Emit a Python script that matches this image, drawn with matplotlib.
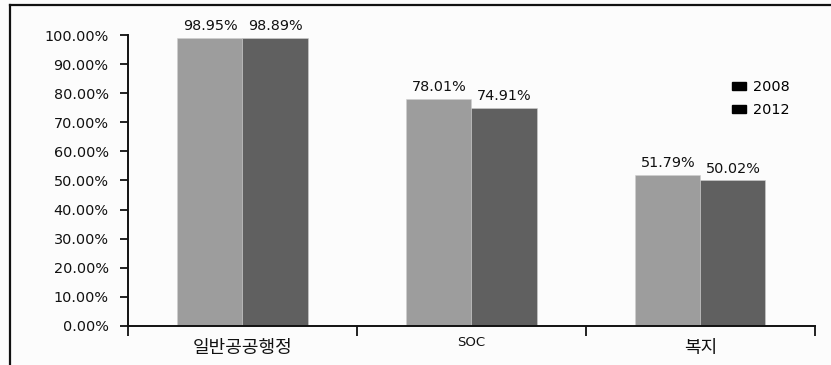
import matplotlib
matplotlib.use("Agg")
import matplotlib.pyplot as plt
from matplotlib.lines import Line2D
from matplotlib.patches import Patch
from matplotlib.ticker import FixedLocator, FuncFormatter
import numpy as np

categories = ["일반공공행정", "SOC", "복지"]
series_names = ["2008", "2012"]
values_2008 = [98.95, 78.01, 51.79]
values_2012 = [98.89, 74.91, 50.02]
y_ticks = [0, 10, 20, 30, 40, 50, 60, 70, 80, 90, 100]

plt.rcParams["font.family"] = ["DejaVu Sans", "Noto Sans CJK KR"]

fig = plt.figure(figsize=(8.31, 3.65), dpi=100, facecolor="#fcfcfc")
ax = fig.add_axes([0.154, 0.107, 0.8267, 0.797])
ax.set_facecolor("#fcfcfc")

x = np.arange(len(categories))
w = 0.284
colors = ["#9d9d9d", "#606060"]
bars_a = ax.bar(x - w / 2, values_2008, w, color=colors[0], edgecolor="#cfcfcf", linewidth=0.4)
bars_b = ax.bar(x + w / 2, values_2012, w, color=colors[1], edgecolor="#cfcfcf", linewidth=0.4)

for bars, vals in ((bars_a, values_2008), (bars_b, values_2012)):
    for b, v in zip(bars, vals):
        ax.annotate(f"{v:.2f}%", (b.get_x() + b.get_width() / 2, v),
                    xytext=(0, 3.5), textcoords="offset points",
                    ha="center", va="bottom", fontsize=10.4, color="#111111")

ax.set_xlim(-0.5, len(categories) - 0.5)
ax.set_ylim(0, 100)

ax.yaxis.set_major_locator(FixedLocator(y_ticks))
ax.yaxis.set_major_formatter(FuncFormatter(lambda v, p: f"{v:.2f}%"))
ax.tick_params(axis="y", direction="out", length=6, width=1.3, pad=8,
               labelsize=10.4, colors="#111111", labelcolor="#111111")

# category ticks sit on the boundaries between groups
ax.set_xticks(np.arange(len(categories) + 1) - 0.5)
ax.set_xticklabels([])
ax.tick_params(axis="x", direction="out", length=7, width=1.3, colors="#111111")
for i, c in enumerate(categories):
    if c.isascii():
        ax.text(i, -5.8, c, ha="center", va="center", fontsize=9.5,
                transform=ax.transData, color="#111111")
    else:
        ax.text(i, -7.6, c, ha="center", va="center", fontsize=13,
                family=["Noto Sans CJK KR", "DejaVu Sans"],
                transform=ax.transData, color="#111111")

for s in ("top", "right"):
    ax.spines[s].set_visible(False)
for s in ("left", "bottom"):
    ax.spines[s].set_linewidth(1.4)
    ax.spines[s].set_color("#111111")

handles = [Patch(facecolor="#000000", edgecolor="#000000") for _ in series_names]
leg = ax.legend(handles, series_names, loc="upper left", bbox_to_anchor=(0.86, 0.89),
                frameon=False, fontsize=10.4, handlelength=1.0, handleheight=0.45,
                handletextpad=0.5, labelspacing=0.65)

# outer frame: top and left rules
fig.add_artist(Line2D([10 / 831, 1.0], [1 - 5 / 365, 1 - 5 / 365],
                      transform=fig.transFigure, color="#111111", linewidth=1.6))
fig.add_artist(Line2D([10 / 831, 10 / 831], [0, 1 - 5 / 365],
                      transform=fig.transFigure, color="#111111", linewidth=1.6))

fig.savefig("out.png", dpi=100, facecolor=fig.get_facecolor())
